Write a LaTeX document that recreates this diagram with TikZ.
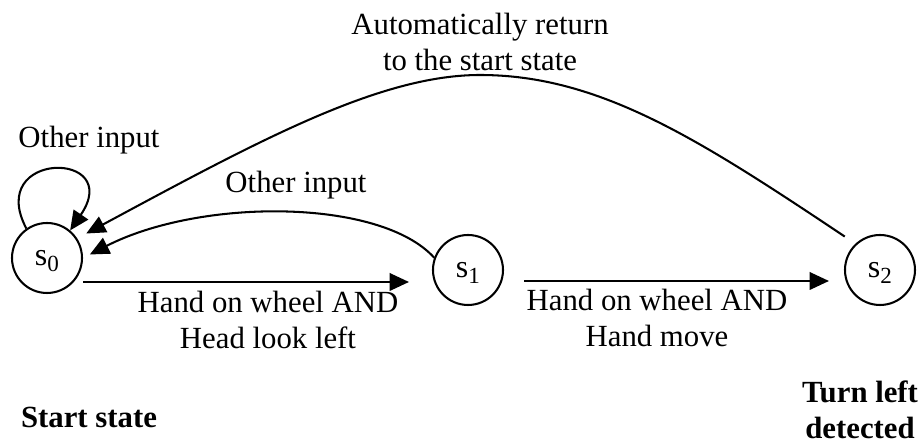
\documentclass[tikz,border=0pt]{standalone}
\usepackage{fontspec}
\setmainfont{Liberation Serif}
\usetikzlibrary{arrows.meta, calc}

% state name with a lowered index
\newcommand{\stname}[1]{s\raisebox{-2.6pt}{\fontsize{9}{9}\selectfont #1}}

\begin{document}
\begin{tikzpicture}[
    x=0.39pt, y=-0.39pt,
    state/.style={circle, draw, thick, minimum size=27.3pt, inner sep=0pt,
                  text height=5.5pt, text depth=0pt,
                  font=\fontsize{12.5}{14}\selectfont},
    arr/.style={-{Triangle[length=7.5pt, width=6.8pt]}, thick},
    lbl/.style={align=center, inner sep=0pt, font=\fontsize{12}{14}\selectfont},
    tag/.style={align=center, inner sep=0pt, font=\fontsize{12}{14}\selectfont\bfseries},
  ]
  \useasboundingbox (0,0) rectangle (922,443);

  % ── States ──
  \node[state] (s0) at (47,258) {\stname{0}};
  \node[state] (s1) at (468,270) {\stname{1}};
  \node[state] (s2) at (880,270) {\stname{2}};

  % ── Forward transitions ──
  \draw[arr] ($(s0.east)+(0,24)$) -- ($(s1.west)+(-23,12)$);
  \draw[arr] ($(s1.east)+(20,11)$) -- ($(s2.west)+(-15,11)$);
  \node[lbl] (cond1) at (268,320) {Hand on wheel AND\\Head look left};
  \node[lbl] (cond2) at (657,318) {Hand on wheel AND\\Hand move};

  % ── Back to s0 ──
  \draw[arr] (s0.125) .. controls (-15,150) and (125,150) .. (s0.50);
  \node[lbl] (loopin) at (89,140) {Other input};

  \draw[arr, shorten >=3pt] (s1.160) .. controls (380,198) and (200,198) .. (s0.east);
  \node[lbl] (backin) at (296,185) {Other input};

  \draw[arr, shorten <=5pt, shorten >=4pt] (s2.133) .. controls (700,140) and (600,75) .. (480,75)
    .. controls (380,75) and (260,140) .. (s0.33);
  \node[lbl] (reset) at (480,42) {Automatically return\\to the start state};

  % ── State notes ──
  \node[tag] (startnote) at (89,417) {Start state};
  \node[tag] (donenote) at (860,410) {Turn left\\detected};

\end{tikzpicture}
\end{document}
